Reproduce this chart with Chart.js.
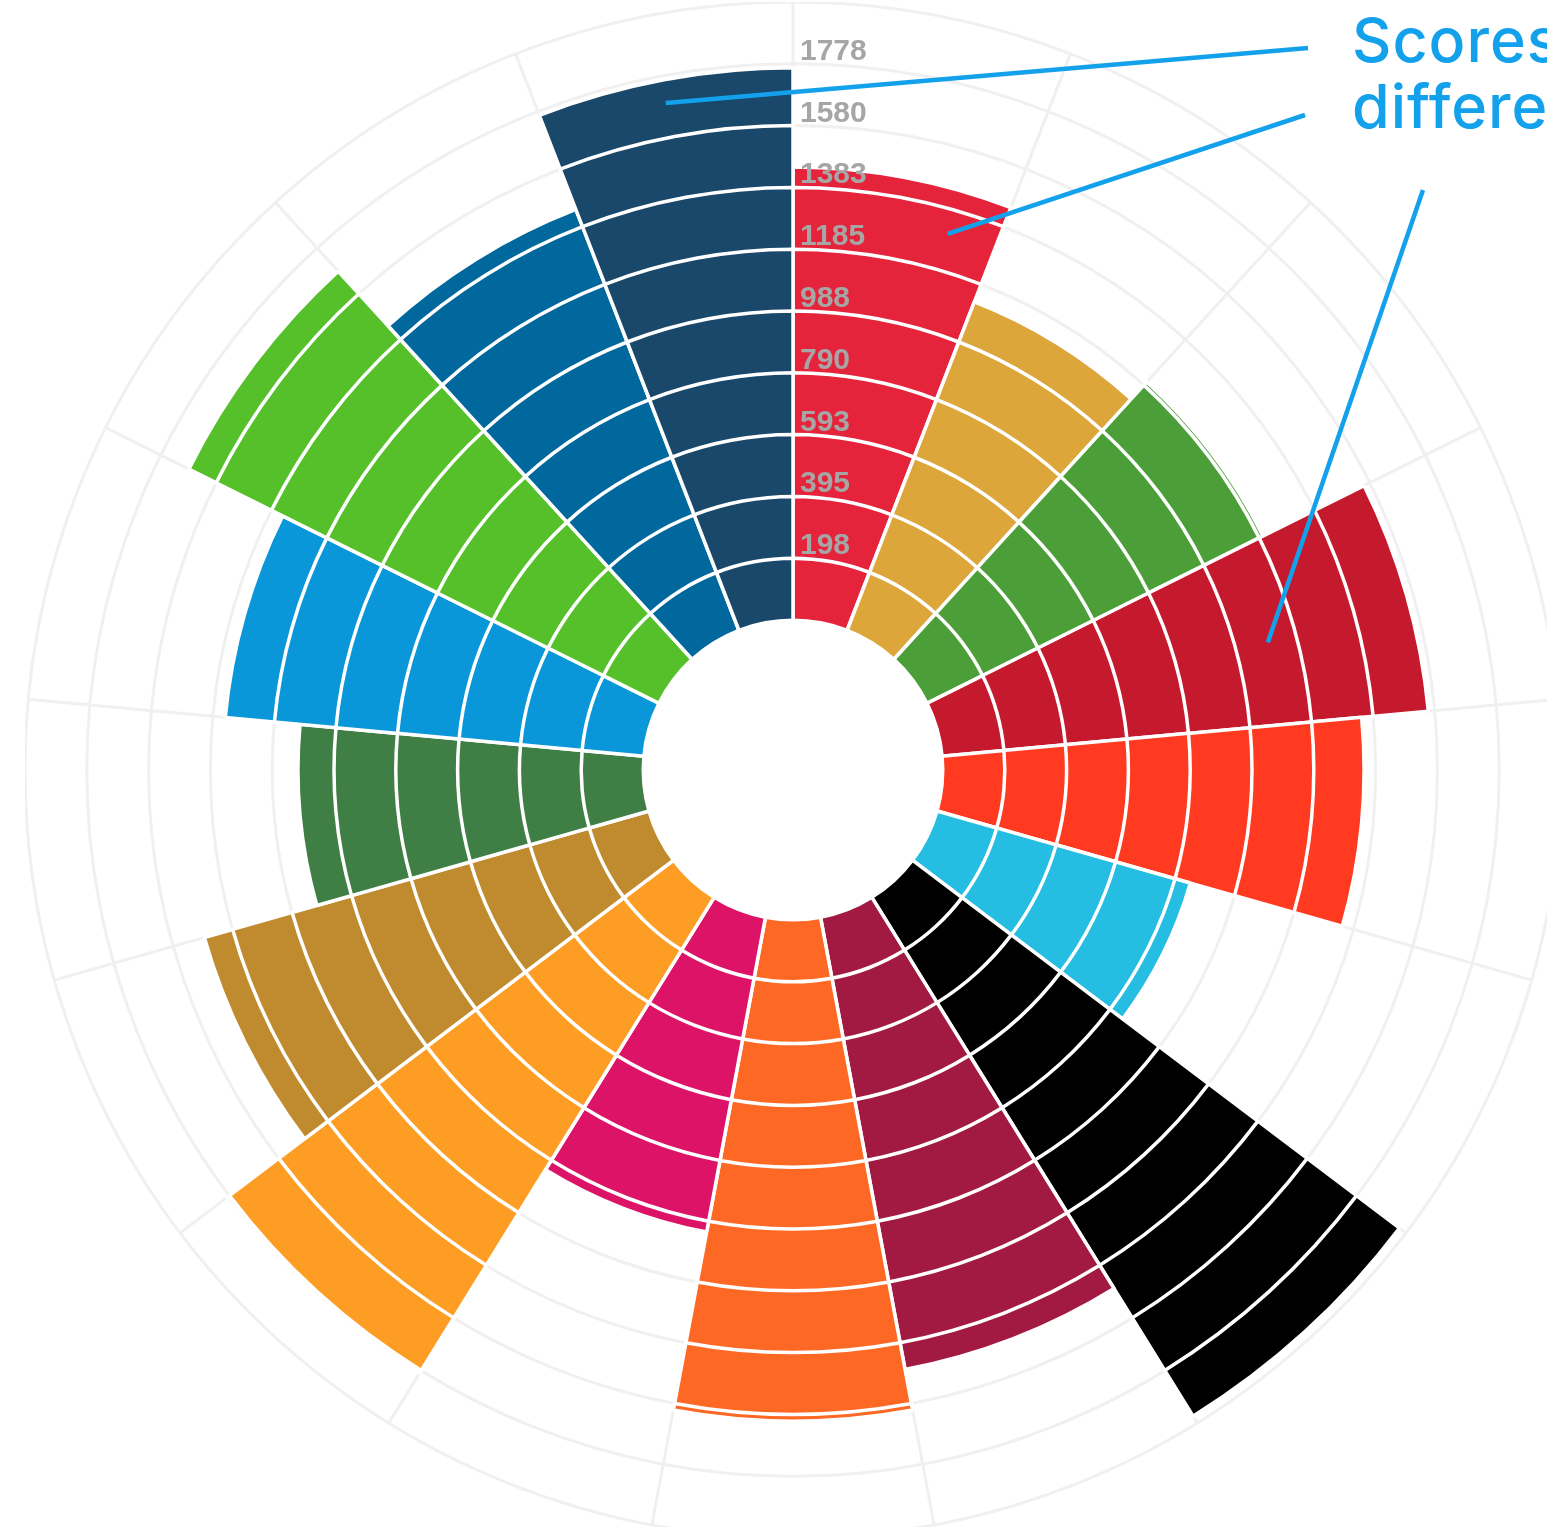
<!DOCTYPE html>
<html>
<head>
<meta charset="utf-8">
<title>SDG scores</title>
<script src="https://cdn.jsdelivr.net/npm/chart.js@4.4.1/dist/chart.umd.min.js"></script>
<style>
  html, body { margin: 0; padding: 0; background: #fff; overflow: hidden; width: 1547px; height: 1527px; }
  #wrap { position: absolute; left: 25px; top: 2px; width: 1536px; height: 1536px; }
  #note {
    position: absolute; left: 1352px; top: 7px;
    color: #13a1ec; font-family: Inter, "Open Sans", sans-serif;
    font-size: 61px; font-weight: 500; line-height: 66px;
    letter-spacing: 1px; white-space: nowrap;
  }
</style>
</head>
<body>
<div id="wrap"><canvas id="sdgChart"></canvas></div>
<div id="note">Scores at<br>different levels</div>
<script>
const goals = ["SDG 1", "SDG 2", "SDG 3", "SDG 4", "SDG 5", "SDG 6", "SDG 7", "SDG 8", "SDG 9",
  "SDG 10", "SDG 11", "SDG 12", "SDG 13", "SDG 14", "SDG 15", "SDG 16", "SDG 17"];
const scores = [1448, 1125, 1199, 1560, 1346, 841, 1950, 1470, 1602, 1023, 1788, 1477, 1103, 1343, 1678, 1442, 1765];
const goalColors = ["#e5243b", "#dda63a", "#4c9f38", "#c5192d", "#ff3a21", "#26bde2", "#000000", "#a21942", "#fd6925",
  "#dd1367", "#fd9d24", "#bf8b2e", "#3f7e44", "#0a97d9", "#56c02b", "#00689d", "#19486a"];
const tickLabels = ["198", "395", "593", "790", "988", "1185", "1383", "1580", "1778"];
const tickStep = 197.55;
const axisMax = 1975.5;
const holeValue = -479.5; // empty centre

// leader lines of the note: start at the text, end inside a bar (index, value)
const pointers = [
  { fromX: 1308, fromY: 48, index: 16.49, value: 1691 },
  { fromX: 1305, fromY: 115, index: 0.76, value: 1304 },
  { fromX: 1423, fromY: 190, index: 3.54, value: 1092 },
];
const noteColor = "#13a1ec";

// one layer per grid step so the grid shows as white rings on the bars
const datasets = [{
  label: "hole",
  data: goals.map(() => 0),
  backgroundColor: "#ffffff",
  borderColor: "#ffffff",
  borderWidth: 3,
}];
for (let k = 1; k <= tickLabels.length + 1; k++) {
  datasets.push({
    label: "level " + k,
    data: scores.map((s) => Math.min(s, k * tickStep)),
    backgroundColor: goalColors,
    borderColor: "#ffffff",
    borderWidth: 3.5,
  });
}

const overlay = {
  id: "overlay",
  afterDatasetsDraw(chart) {
    const r = chart.scales.r;
    const ctx = chart.ctx;
    ctx.save();
    ctx.font = 'bold 30px "Liberation Sans", Arial, sans-serif';
    ctx.fillStyle = "#a6a6a6";
    ctx.textAlign = "left";
    ctx.textBaseline = "alphabetic";
    tickLabels.forEach((label, i) => {
      const d = r.getDistanceFromCenterForValue((i + 1) * tickStep);
      ctx.fillText(label, r.xCenter + 7, r.yCenter - d - 4);
    });
    const box = chart.canvas.getBoundingClientRect();
    ctx.strokeStyle = noteColor;
    ctx.lineWidth = 4.5;
    pointers.forEach((p) => {
      const end = r.getPointPositionForValue(p.index, p.value);
      ctx.beginPath();
      ctx.moveTo(p.fromX - box.left, p.fromY - box.top);
      ctx.lineTo(end.x, end.y);
      ctx.stroke();
    });
    ctx.restore();
  },
};

new Chart(document.getElementById("sdgChart"), {
  type: "polarArea",
  data: { labels: goals, datasets: datasets },
  options: {
    responsive: true,
    maintainAspectRatio: false,
    devicePixelRatio: 1,
    animation: false,
    layout: { padding: 0 },
    plugins: { legend: { display: false }, tooltip: { enabled: false } },
    scales: {
      r: {
        min: holeValue,
        max: axisMax,
        startAngle: 0,
        afterBuildTicks: (scale) => {
          const vals = [0];
          tickLabels.forEach((_, i) => vals.push((i + 1) * tickStep));
          vals.push(axisMax);
          scale.ticks = vals.map((v) => ({ value: v }));
        },
        ticks: { display: false },
        grid: { circular: true, color: "#f0f0f0", lineWidth: 3 },
        angleLines: { display: true, color: "#f0f0f0", lineWidth: 3 },
        pointLabels: { display: false },
      },
    },
  },
  plugins: [overlay],
});
</script>
</body>
</html>
